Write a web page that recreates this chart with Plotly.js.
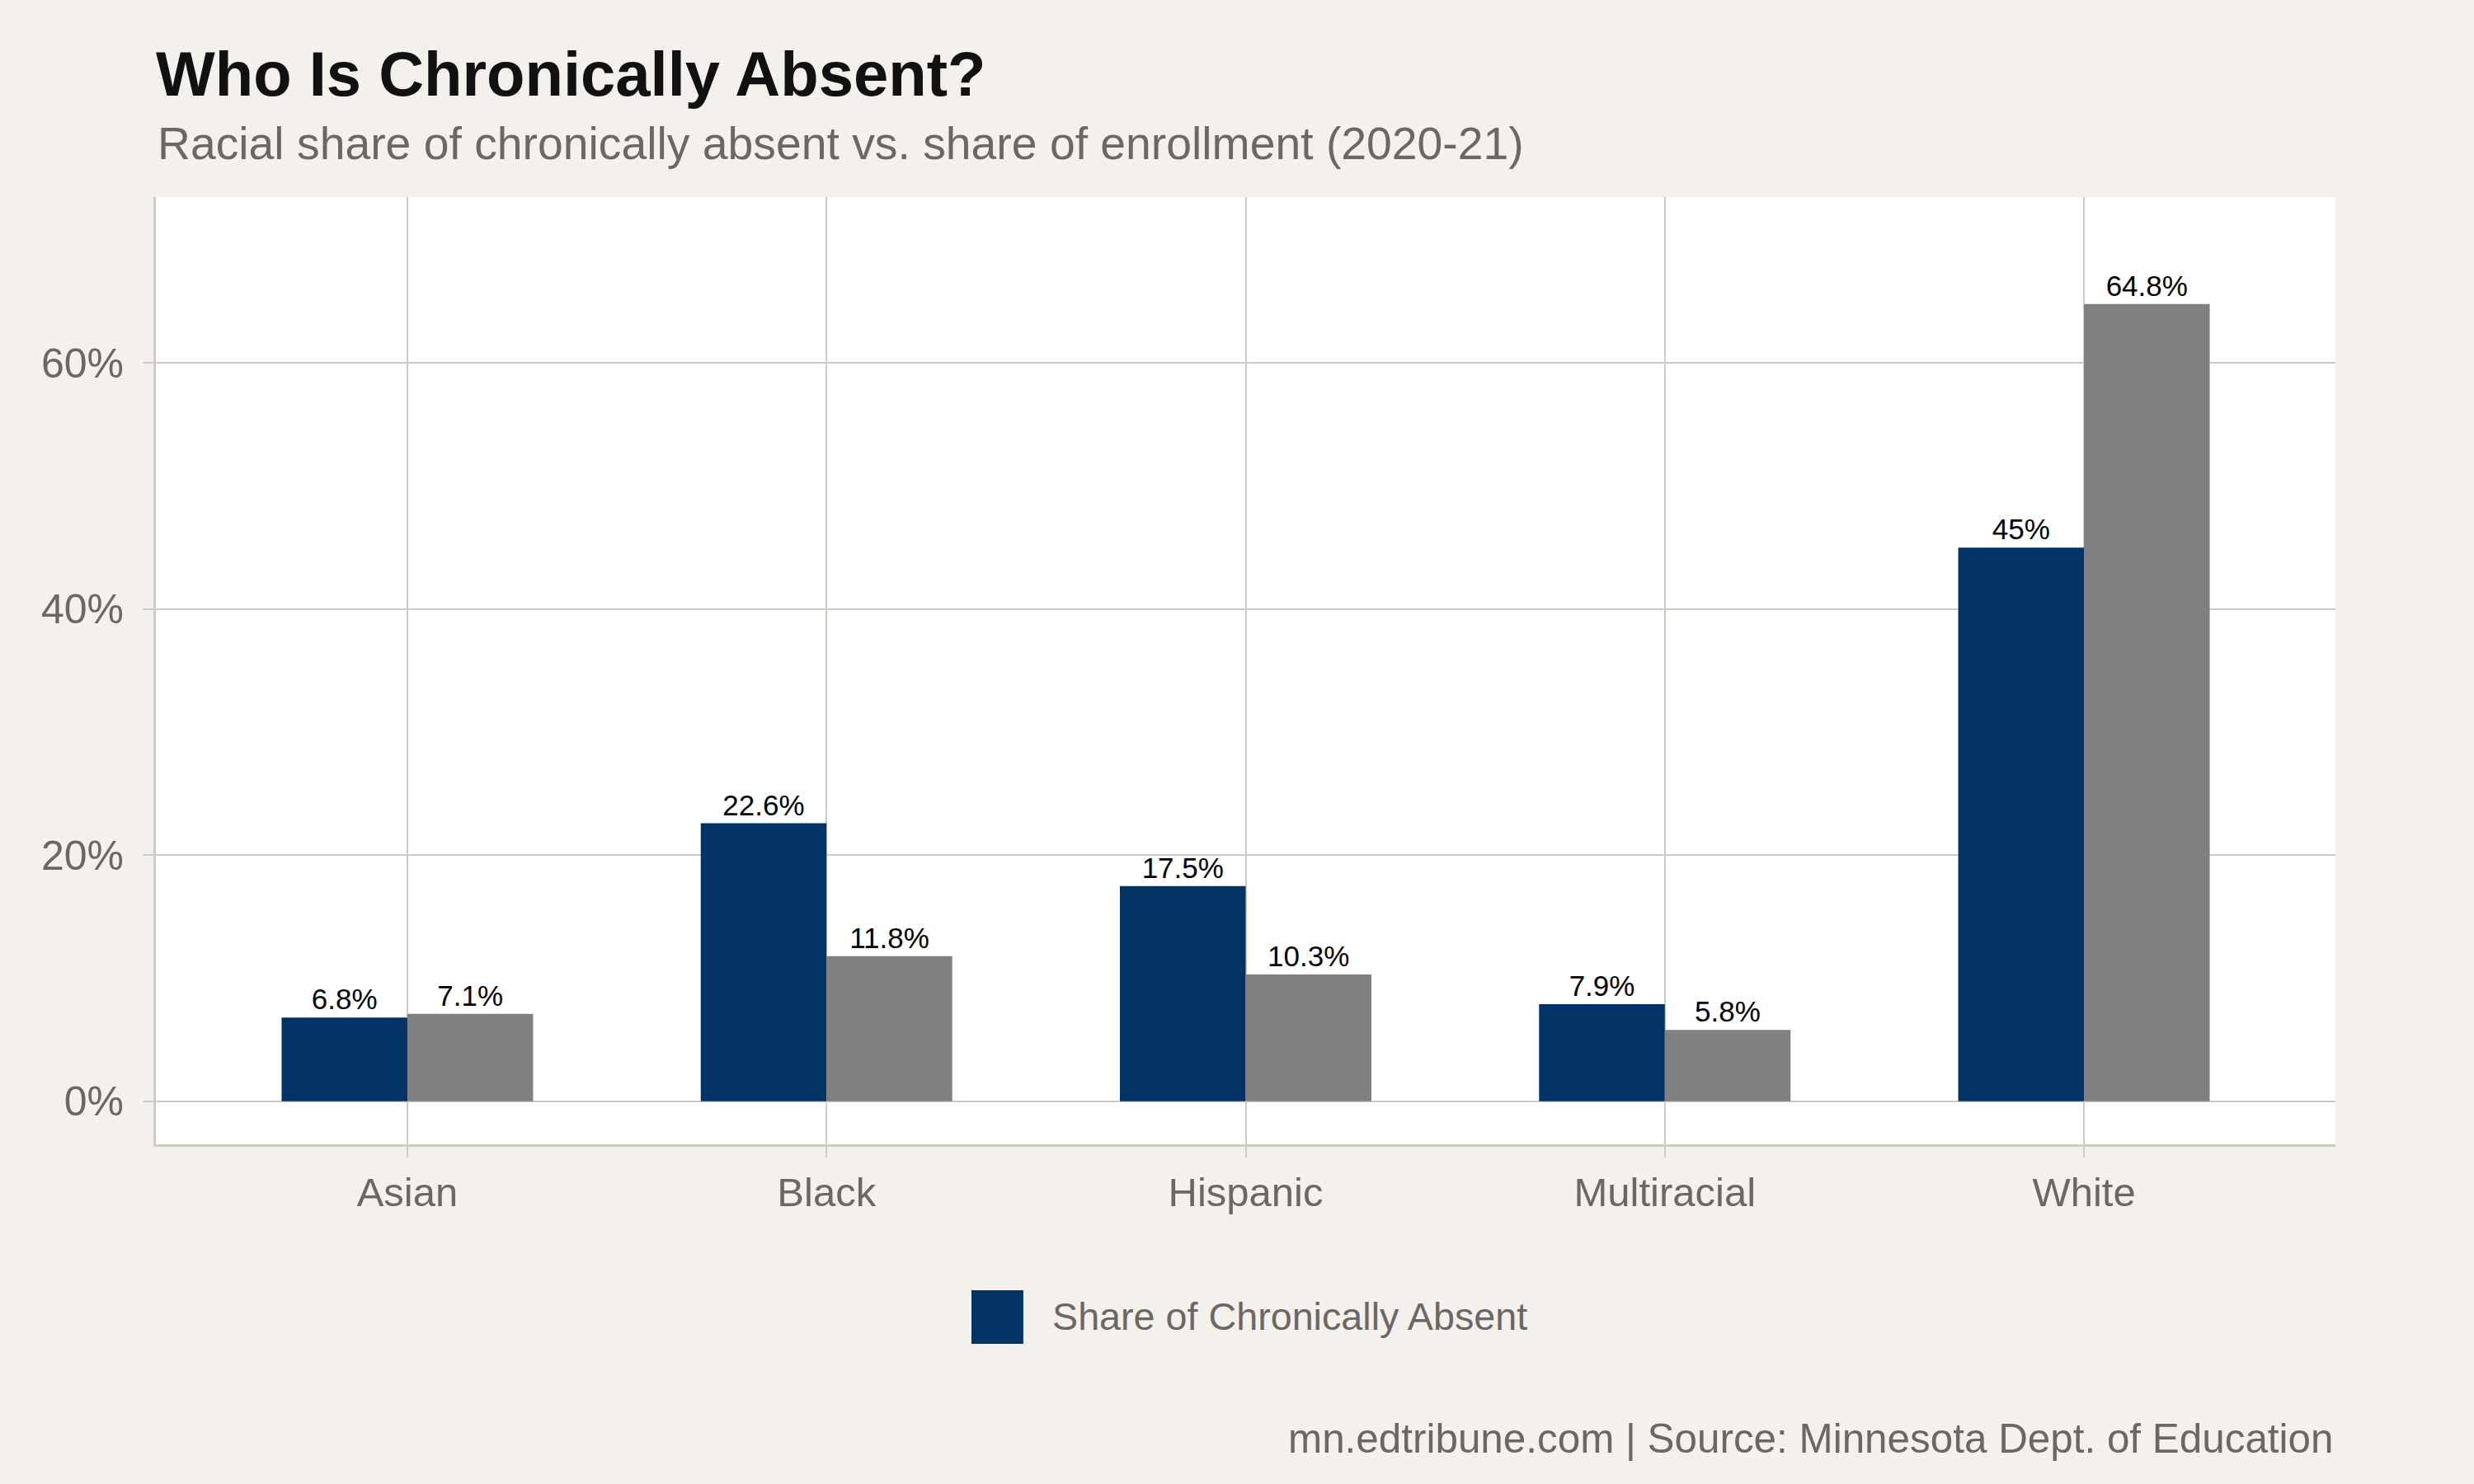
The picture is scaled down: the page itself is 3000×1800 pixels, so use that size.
<!DOCTYPE html>
<html>
<head>
<meta charset="utf-8">
<script src="https://cdn.plot.ly/plotly-3.0.1.min.js"></script>
<style>html,body{margin:0;padding:0;background:#F4F1EC;}#chart{width:3000px;height:1800px;}</style>
</head>
<body>
<div id="chart"></div>
<script>
const categories = ["Asian", "Black", "Hispanic", "Multiracial", "White"];
const shareAbsent = [6.8, 22.6, 17.5, 7.9, 45];
const shareEnrollment = [7.1, 11.8, 10.3, 5.8, 64.8];
const yTickVals = [0, 20, 40, 60];
const yTickText = ["0%", "20%", "40%", "60%"];
const legendLabel = "Share of Chronically Absent";

const FONT = "Liberation Sans, Arial, Helvetica, sans-serif";
const GRID = "#CFCAC2";
const GREYTXT = "#6B6863";
const BLUE = "#013366";
const GREY = "#808080";

const traces = [
  {
    type: "bar", x: categories, y: shareAbsent, name: legendLabel,
    marker: {color: BLUE},
    text: shareAbsent.map(v => v + "%"), textposition: "outside",
    textfont: {family: FONT, size: 35, color: "#000000"},
    cliponaxis: false, showlegend: false, hoverinfo: "x+y"
  },
  {
    type: "bar", x: categories, y: shareEnrollment, name: "Share of Enrollment",
    marker: {color: GREY},
    text: shareEnrollment.map(v => v + "%"), textposition: "outside",
    textfont: {family: FONT, size: 35, color: "#000000"},
    cliponaxis: false, showlegend: false, hoverinfo: "x+y"
  }
];

const layout = {
  width: 3000, height: 1800,
  paper_bgcolor: "#F4F1EC", plot_bgcolor: "#FFFFFF",
  margin: {l: 189, r: 168, t: 239, b: 412},
  font: {family: FONT, color: GREYTXT},
  barmode: "group", bargap: 0.4, bargroupgap: 0,
  showlegend: false,
  title: {
    text: "<b>Who Is Chronically Absent?</b>",
    font: {family: FONT, size: 76, color: "#111111"},
    xref: "paper", x: 0, xanchor: "left",
    yref: "container", y: 1 - 89/1800, yanchor: "middle"
  },
  xaxis: {
    type: "category", range: [-0.6, 4.6],
    showgrid: true, gridcolor: GRID, gridwidth: 2,
    showline: true, linecolor: GRID, linewidth: 3,
    ticks: "outside", ticklen: 13, tickwidth: 2, tickcolor: GRID,
    tickfont: {family: FONT, size: 49, color: GREYTXT},
    ticklabelstandoff: 0,
    zeroline: false, fixedrange: true
  },
  yaxis: {
    range: [-3.5, 73.5],
    tickvals: yTickVals, ticktext: yTickText,
    showgrid: true, gridcolor: GRID, gridwidth: 2,
    showline: true, linecolor: GRID, linewidth: 3,
    ticks: "outside", ticklen: 13, tickwidth: 2, tickcolor: GRID,
    tickfont: {family: FONT, size: 50, color: GREYTXT},
    ticklabelstandoff: 13,
    zeroline: false, fixedrange: true
  },
  shapes: [
    {type: "rect", xref: "paper", yref: "paper",
     x0: 0.3742, x1: 0.398, y0: -0.1540, y1: -0.2106,
     fillcolor: BLUE, line: {width: 0}}
  ],
  annotations: [
    {text: "Racial share of chronically absent vs. share of enrollment (2020-21)",
     xref: "paper", yref: "paper", x: 0, y: 1.0566, xanchor: "left", yanchor: "middle",
     showarrow: false, font: {family: FONT, size: 55.3, color: GREYTXT}},
    {text: legendLabel,
     xref: "paper", yref: "paper", x: 0.4105, y: -0.1819, xanchor: "left", yanchor: "middle",
     showarrow: false, font: {family: FONT, size: 46.7, color: GREYTXT}},
    {text: "mn.edtribune.com | Source: Minnesota Dept. of Education",
     xref: "paper", yref: "paper", x: 1, y: -0.3107, xanchor: "right", yanchor: "middle",
     showarrow: false, font: {family: FONT, size: 49.4, color: GREYTXT}}
  ]
};

Plotly.newPlot("chart", traces, layout, {displayModeBar: false, staticPlot: true});
</script>
</body>
</html>
